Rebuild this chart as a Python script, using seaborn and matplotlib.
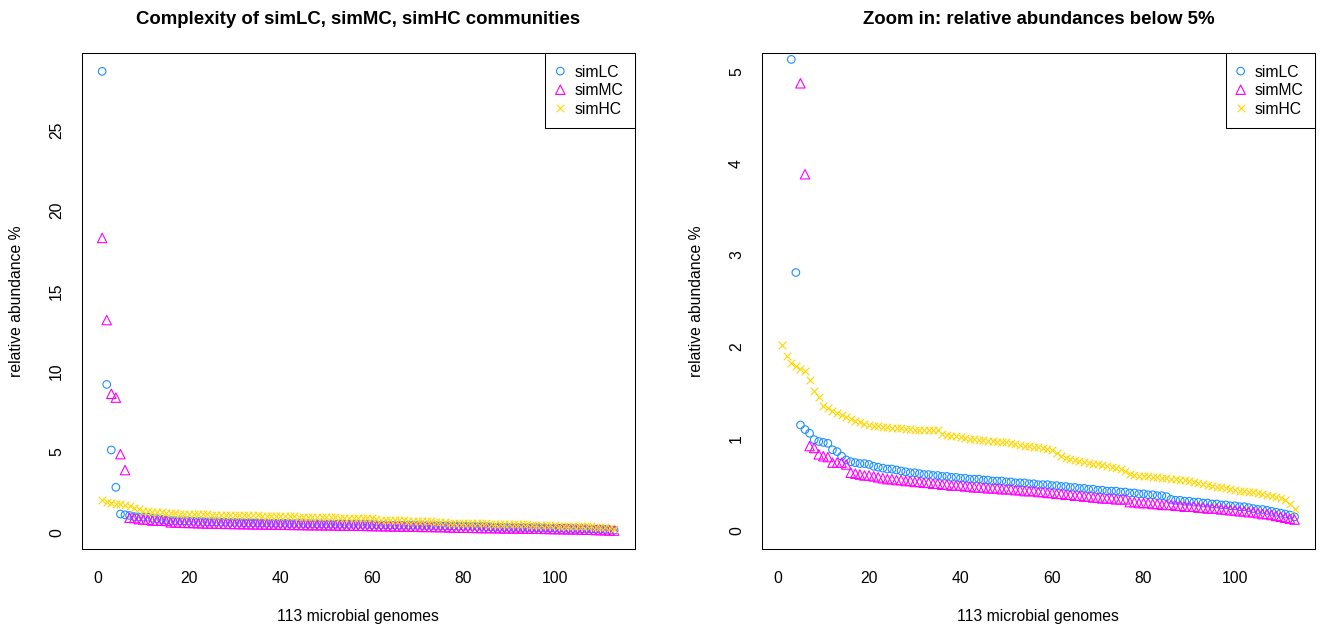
import matplotlib
matplotlib.use("Agg")
import matplotlib.pyplot as plt
import numpy as np
import pandas as pd
import seaborn as sns

# ---- data: relative abundance (%) of 113 genomes, ranked, per community ----
genome_rank = list(range(1, 114))

sim_lc = [
    28.65, 9.20, 5.13, 2.81, 1.15, 1.10, 1.06, 0.99, 0.97, 0.96,
    0.95, 0.88, 0.86, 0.81, 0.77, 0.75, 0.74, 0.73, 0.73, 0.72,
    0.70, 0.69, 0.68, 0.67, 0.67, 0.66, 0.65, 0.64, 0.63, 0.63,
    0.62, 0.61, 0.61, 0.60, 0.60, 0.59, 0.59, 0.58, 0.58, 0.57,
    0.57, 0.56, 0.56, 0.56, 0.55, 0.55, 0.54, 0.54, 0.54, 0.53,
    0.53, 0.52, 0.52, 0.52, 0.51, 0.51, 0.50, 0.50, 0.50, 0.49,
    0.49, 0.48, 0.48, 0.47, 0.47, 0.46, 0.46, 0.45, 0.45, 0.44,
    0.44, 0.43, 0.43, 0.43, 0.42, 0.42, 0.41, 0.41, 0.40, 0.40,
    0.39, 0.39, 0.38, 0.38, 0.37, 0.34, 0.33, 0.33, 0.32, 0.32,
    0.31, 0.31, 0.30, 0.30, 0.29, 0.29, 0.28, 0.28, 0.27, 0.27,
    0.26, 0.26, 0.25, 0.24, 0.23, 0.23, 0.22, 0.21, 0.20, 0.19,
    0.18, 0.17, 0.15,
]

sim_mc = [
    18.30, 13.20, 8.62, 8.38, 4.87, 3.88, 0.92, 0.90, 0.83, 0.81,
    0.80, 0.74, 0.74, 0.74, 0.72, 0.63, 0.62, 0.61, 0.60, 0.60,
    0.59, 0.58, 0.57, 0.56, 0.56, 0.55, 0.55, 0.54, 0.54, 0.53,
    0.53, 0.52, 0.52, 0.51, 0.51, 0.50, 0.50, 0.49, 0.49, 0.49,
    0.48, 0.48, 0.47, 0.47, 0.47, 0.46, 0.46, 0.46, 0.45, 0.45,
    0.45, 0.44, 0.44, 0.43, 0.43, 0.43, 0.42, 0.42, 0.41, 0.41,
    0.40, 0.40, 0.39, 0.39, 0.38, 0.38, 0.37, 0.37, 0.36, 0.36,
    0.35, 0.35, 0.35, 0.34, 0.34, 0.34, 0.31, 0.31, 0.30, 0.30,
    0.30, 0.29, 0.29, 0.28, 0.28, 0.28, 0.27, 0.27, 0.26, 0.26,
    0.26, 0.25, 0.25, 0.24, 0.24, 0.24, 0.23, 0.23, 0.22, 0.22,
    0.21, 0.21, 0.20, 0.20, 0.19, 0.18, 0.18, 0.17, 0.16, 0.15,
    0.14, 0.13, 0.12,
]

sim_hc = [
    2.02, 1.90, 1.83, 1.79, 1.76, 1.74, 1.64, 1.52, 1.45, 1.36,
    1.33, 1.30, 1.28, 1.26, 1.24, 1.21, 1.19, 1.18, 1.16, 1.15,
    1.14, 1.14, 1.13, 1.13, 1.12, 1.12, 1.12, 1.11, 1.11, 1.10,
    1.10, 1.10, 1.09, 1.09, 1.09, 1.05, 1.04, 1.03, 1.03, 1.02,
    1.01, 1.00, 1.00, 0.99, 0.99, 0.98, 0.98, 0.97, 0.97, 0.96,
    0.95, 0.94, 0.93, 0.92, 0.92, 0.91, 0.91, 0.90, 0.89, 0.88,
    0.85, 0.81, 0.79, 0.78, 0.77, 0.76, 0.75, 0.74, 0.73, 0.72,
    0.71, 0.70, 0.69, 0.68, 0.67, 0.65, 0.62, 0.61, 0.60, 0.60,
    0.59, 0.58, 0.58, 0.57, 0.57, 0.56, 0.56, 0.55, 0.55, 0.54,
    0.53, 0.52, 0.51, 0.50, 0.49, 0.48, 0.47, 0.46, 0.45, 0.44,
    0.43, 0.43, 0.42, 0.42, 0.41, 0.40, 0.39, 0.38, 0.37, 0.35,
    0.33, 0.29, 0.24,
]

community_names = ["simLC", "simMC", "simHC"]
community_values = [sim_lc, sim_mc, sim_hc]

x_ticks = [0, 20, 40, 60, 80, 100]
full_y_ticks = [0, 5, 10, 15, 20, 25]
zoom_y_ticks = [0, 1, 2, 3, 4, 5]
zoom_limits = (0, 5)

panel_titles = [
    "Complexity of simLC, simMC, simHC communities",
    "Zoom in: relative abundances below 5%",
]
x_label = "113 microbial genomes"
y_label = "relative abundance %"

# ---- styling ----
colors = {"simLC": "#1E90FF", "simMC": "#FF00FF", "simHC": "#FFD700"}
markers = {"simLC": "o", "simMC": "^", "simHC": "x"}
sizes = {"simLC": 30, "simMC": 46, "simHC": 30}

sns.set_theme(style="white")
plt.rcParams["font.family"] = ["Liberation Sans", "DejaVu Sans"]
plt.rcParams["font.size"] = 11.3
for key in ["text.color", "axes.labelcolor", "xtick.color", "ytick.color",
            "axes.edgecolor"]:
    plt.rcParams[key] = "black"

frames = []
for name, vals in zip(community_names, community_values):
    frames.append(pd.DataFrame({"genome": genome_rank, "abundance": vals,
                                "community": name}))
df = pd.concat(frames, ignore_index=True)


def padded(lo, hi, frac=0.04):
    span = hi - lo
    return lo - frac * span, hi + frac * span


fig = plt.figure(figsize=(13.26, 6.30), dpi=100)
ax_full = fig.add_axes([0.0616, 0.1286, 0.4170, 0.7873])
ax_zoom = fig.add_axes([0.5744, 0.1286, 0.4173, 0.7873])

x_lim = padded(min(genome_rank), max(genome_rank))
full_lim = padded(df["abundance"].min(), df["abundance"].max())
zoom_lim = padded(*zoom_limits)

for ax, title, y_ticks, y_lim in [
    (ax_full, panel_titles[0], full_y_ticks, full_lim),
    (ax_zoom, panel_titles[1], zoom_y_ticks, zoom_lim),
]:
    for name in community_names:
        sub = df[df["community"] == name]
        kw = dict(color=colors[name])
        if markers[name] != "x":
            kw.update(facecolor="none", edgecolor=colors[name])
        sns.scatterplot(data=sub, x="genome", y="abundance", ax=ax,
                        marker=markers[name], s=sizes[name], linewidth=0.8,
                        label=name, legend=False, **kw)

    ax.set_xlim(*x_lim)
    ax.set_ylim(*y_lim)
    ax.set_xticks(x_ticks)
    ax.set_yticks(y_ticks)
    ax.tick_params(axis="both", direction="out", length=6.8, width=0.75,
                   color="black", labelsize=11.3, labelcolor="black")
    ax.tick_params(axis="x", pad=9)
    ax.tick_params(axis="y", pad=6, labelrotation=90)
    for lbl in ax.get_yticklabels():
        lbl.set_verticalalignment("center")

    for sp in ax.spines.values():
        sp.set_visible(True)
        sp.set_color("black")
        sp.set_linewidth(0.75)

    ax.set_title(title, fontweight="bold", fontsize=13.4, pad=21,
                 color="black")
    ax.set_xlabel(x_label, fontsize=11.3, color="black")
    ax.set_ylabel(y_label, fontsize=11.3, color="black")
    ax.xaxis.set_label_coords(0.5, -0.12)
    ax.yaxis.set_label_coords(-0.105, 0.5)

    leg = ax.legend(loc="upper right", borderaxespad=0, fancybox=False,
                    framealpha=1, edgecolor="black", fontsize=11.3,
                    handlelength=0.42, handletextpad=0.68, borderpad=0.74,
                    labelspacing=0.23, scatteryoffsets=[0.5])
    leg.get_frame().set_linewidth(0.75)
    for t in leg.get_texts():
        t.set_color("black")

fig.savefig("out.png", dpi=100)
